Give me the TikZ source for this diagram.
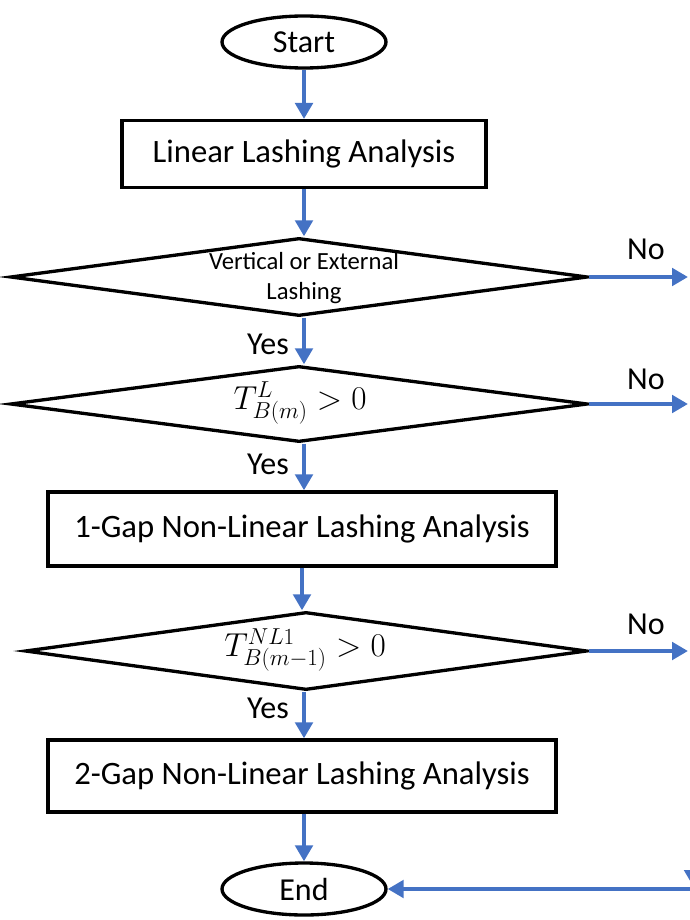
\documentclass[tikz,border=0pt]{standalone}
\usepackage{fontspec}
\setmainfont{Carlito}
\usepackage{tikz}
\usetikzlibrary{arrows.meta,positioning,calc,shapes.geometric}
\definecolor{flowblue}{RGB}{68,114,196}
\definecolor{flowdark}{RGB}{0,0,0}
\tikzset{
  flow term/.style={
    draw=flowdark,
    ellipse,
    line width=2.5pt,
    inner sep=0pt,
    minimum width=123pt,
    minimum height=39pt,
    font=\fontsize{24}{29}\selectfont,
  },
  flow box/.style={
    draw=flowdark,
    line width=2.5pt,
    inner sep=0pt,
    font=\fontsize{24.5}{29}\selectfont,
  },
  flow decision/.style={
    draw=flowdark,
    diamond,
    line width=2.5pt,
    inner sep=0pt,
  },
  flow label/.style={
    font=\fontsize{24}{29}\selectfont,
    inner sep=0pt,
  },
  flow arrow/.style={
    -{Triangle[length=12pt,width=13pt]},
    line width=3pt,
    draw=flowblue,
  },
}

\begin{document}
\begin{tikzpicture}[x=0.75pt,y=-0.75pt]
  \useasboundingbox (0,0) rectangle (689,920);

  \node[flow term] (start) at (304,42) {Start};
  \node[flow box, minimum width=273pt, minimum height=50pt] (linear) at (304,154)
    {Linear Lashing Analysis};
  \node[flow decision, minimum width=433pt, minimum height=58.5pt] (vert) at (299,277) {};
  \node[align=center, inner sep=0pt, font=\fontsize{18.5}{22.5}\selectfont] (verttext) at (304,278)
    {Vertical or External\\Lashing};
  \node[flow decision, minimum width=433pt, minimum height=57pt] (tlin) at (299,404) {};
  \node[flow label, font=\fontsize{25}{29}\selectfont] (tlintext) at (300,403) {$T_{B(m)}^{L} > 0$};
  \node[flow box, minimum width=381pt, minimum height=55.5pt] (gapone) at (302,529)
    {1-Gap Non-Linear Lashing Analysis};
  \node[flow decision, minimum width=421.5pt, minimum height=58.5pt] (tnl) at (306,651) {};
  \node[flow label, font=\fontsize{25}{29}\selectfont] (tnltext) at (305,650) {$T_{B(m-1)}^{NL1} > 0$};
  \node[flow box, minimum width=381pt, minimum height=54pt] (gaptwo) at (302,776)
    {2-Gap Non-Linear Lashing Analysis};
  \node[flow term] (end) at (304,889) {End};

  % off-page ends on the right
  \coordinate (novert) at (688,277);
  \coordinate (notlin) at (688,404);
  \coordinate (notnl) at (688,651);
  \coordinate (back) at (700,889);
  \coordinate (downtop) at (693,800);
  \coordinate (downend) at (693,886);

  \draw[flow arrow] (start.south) -- (start.south |- linear.north);
  \draw[flow arrow] (linear.south) -- (linear.south |- vert.north);
  \draw[flow arrow] (vert.south -| linear.south) -- (linear.south |- tlin.north);
  \draw[flow arrow] (tlin.south -| linear.south) -- (linear.south |- gapone.north);
  \draw[flow arrow] (gapone.south) -- (gapone.south |- tnl.north);
  \draw[flow arrow] (tnl.south -| linear.south) -- (linear.south |- gaptwo.north);
  \draw[flow arrow] (gaptwo.south -| end.north) -- (end.north);
  \draw[flow arrow] (vert.east) -- (novert);
  \draw[flow arrow] (tlin.east) -- (notlin);
  \draw[flow arrow] (tnl.east) -- (notnl);
  \draw[flow arrow] (back) -- (end.east);
  \draw[flow arrow] (downtop) -- (downend);

  \node[flow label] (yesone) at (268,344) {Yes};
  \node[flow label] (yestwo) at (268,464) {Yes};
  \node[flow label] (yesthree) at (268,708) {Yes};
  \node[flow label] (noone) at (646,249) {No};
  \node[flow label] (notwo) at (646,379) {No};
  \node[flow label] (nothree) at (646,624) {No};
\end{tikzpicture}
\end{document}
